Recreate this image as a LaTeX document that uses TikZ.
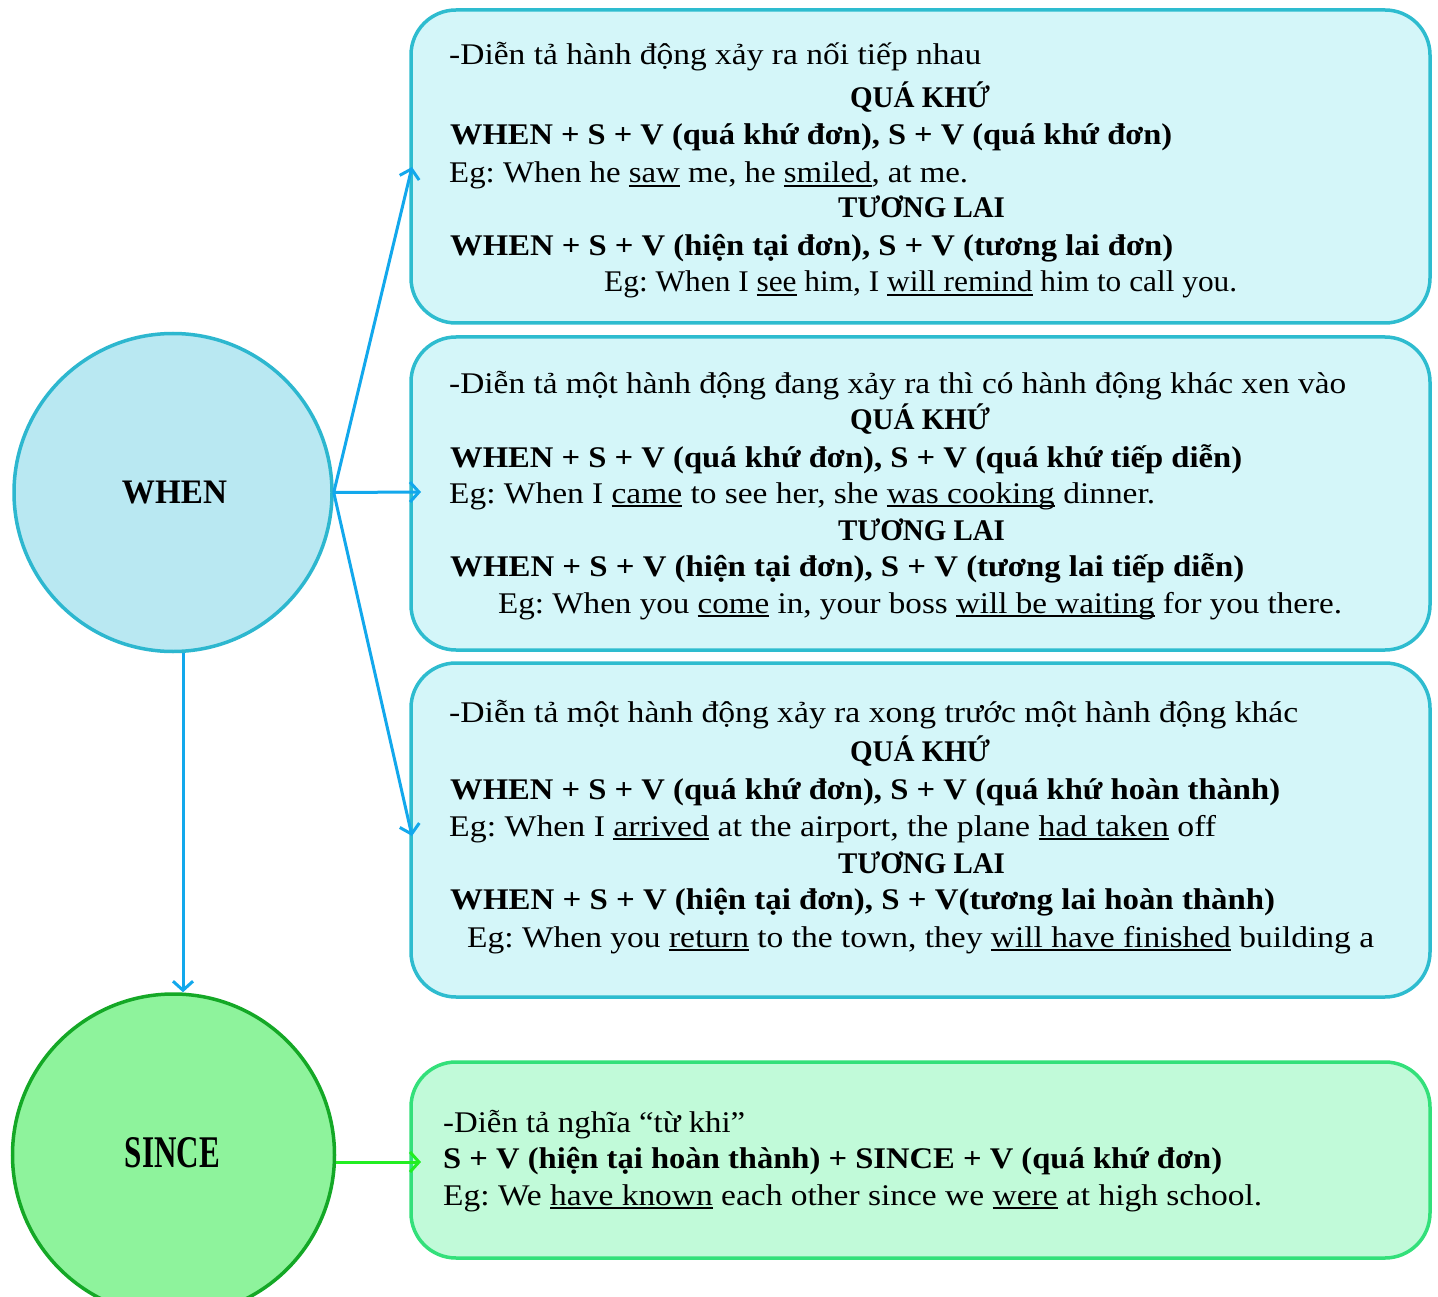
\documentclass[tikz,border=0pt]{standalone}
\usepackage{fontspec}
\usepackage{graphicx}
\setmainfont{Liberation Serif}
\usetikzlibrary{arrows.meta}
\definecolor{boxfill}{HTML}{D4F6F9}
\definecolor{boxline}{HTML}{2EBCCF}
\definecolor{arrblue}{HTML}{12A8EC}
\definecolor{whenfill}{HTML}{B9E8F2}
\definecolor{whenline}{HTML}{2DB7CF}
\definecolor{sincefill}{HTML}{8EF39C}
\definecolor{sinceline}{HTML}{14A826}
\definecolor{gboxfill}{HTML}{C1FAD9}
\definecolor{gboxline}{HTML}{33E07A}
\definecolor{garrow}{HTML}{22EE22}
\frenchspacing
\newsavebox\fitbox
\newsavebox\ulbox
\newcommand\fitto[2]{\sbox\fitbox{#2}\pgfmathsetmacro\fitr{#1/\the\wd\fitbox}\scalebox{\fitr}[1]{\usebox\fitbox}}
\newcommand\ul[1]{\sbox\ulbox{#1}\rlap{\rule[-3.6pt]{\wd\ulbox}{1.7pt}}\usebox\ulbox}
\tikzset{
  txt/.style={anchor=base west, inner sep=0pt, font=\fontsize{30}{32}\selectfont, text=black},
  ctr/.style={anchor=base, inner sep=0pt, font=\fontsize{30}{32}\selectfont\bfseries, text=black},
  bluebox/.style={draw=boxline, fill=boxfill, line width=3.5pt, rounded corners=45pt, minimum width=1019pt, inner sep=0pt},
  greenbox/.style={draw=gboxline, fill=gboxfill, line width=3.5pt, rounded corners=45pt, minimum width=1019pt, inner sep=0pt},
  barrow/.style={draw=arrblue, line width=3pt, -{Straight Barb[length=9pt,width=20pt,line width=3pt]}},
  garr/.style={draw=garrow, line width=3pt, -{Straight Barb[length=9pt,width=20pt,line width=3pt]}},
}
\begin{document}
\begin{tikzpicture}[x=1pt,y=-1pt]
\useasboundingbox[fill=white] (0,0) rectangle (1438,1297);
% circles
\node[circle, draw=whenline, fill=whenfill, line width=3.5pt, minimum size=318pt, inner sep=0pt] (when) at (173,492.5) {};
\node[anchor=base, inner sep=0pt] (whent) at (174.5,503) {\resizebox{105pt}{22.5pt}{\bfseries WHEN}};
\node[circle, draw=sinceline, fill=sincefill, line width=3.5pt, minimum size=322pt, inner sep=0pt] (since) at (173.5,1155) {};
\node[anchor=base, inner sep=0pt] (sincet) at (172.5,1167) {\resizebox{95pt}{30pt}{\bfseries SINCE}};
% boxes
\node[bluebox, minimum height=313pt] (b1) at (920.5,166.5) {};
\node[bluebox, minimum height=313pt] (b2) at (920.5,493.5) {};
\node[bluebox, minimum height=334pt] (b3) at (920.5,830) {};
\node[greenbox, minimum height=196pt] (b4) at (920.5,1160) {};
% connectors
\coordinate (e1) at (412,167);
\coordinate (e2) at (421,492);
\coordinate (e3) at (412,836);
\coordinate (dx) at (183,0);
\coordinate (g1) at (421,1162);
\draw[barrow] (when.east) -- (e1);
\draw[barrow] (when.east) -- (e2);
\draw[barrow] (when.east) -- (e3);
\draw[barrow] (when.south -| dx) -- (since.north -| dx);
\draw[garr] (since.east |- g1) -- (g1);
% box 1
\node[txt] (a1) at (449,65) {\fitto{532}{-Diễn tả hành động xảy ra nối tiếp nhau}};
\node[ctr] (a2) at (920,108) {\fitto{140}{QUÁ KHỨ}};
\node[txt] (a3) at (450,145) {\fitto{722}{\bfseries WHEN + S + V (quá khứ đơn), S + V (quá khứ đơn)}};
\node[txt] (a4) at (449,183) {\fitto{519}{Eg: When he \ul{saw} me, he \ul{smiled}, at me.}};
\node[ctr] (a5) at (921.5,218) {\fitto{167}{TƯƠNG LAI}};
\node[txt] (a6) at (450,256) {\fitto{723}{\bfseries WHEN + S + V (hiện tại đơn), S + V (tương lai đơn)}};
\node[txt] (a7) at (604,292) {\fitto{633}{Eg: When I \ul{see} him, I \ul{will remind} him to call you.}};
% box 2
\node[txt] (c1) at (449,393) {\fitto{897}{-Diễn tả một hành động đang xảy ra thì có hành động khác xen vào}};
\node[ctr] (c2) at (920,429) {\fitto{140}{QUÁ KHỨ}};
\node[txt] (c3) at (450,467) {\fitto{792}{\bfseries WHEN + S + V (quá khứ đơn), S + V (quá khứ tiếp diễn)}};
\node[txt] (c4) at (449,503) {\fitto{706}{Eg: When I \ul{came} to see her, she \ul{was cooking} dinner.}};
\node[ctr] (c5) at (921.5,540) {\fitto{167}{TƯƠNG LAI}};
\node[txt] (c6) at (450,576) {\fitto{794}{\bfseries WHEN + S + V (hiện tại đơn), S + V (tương lai tiếp diễn)}};
\node[txt] (c7) at (498,613) {\fitto{844}{Eg: When you \ul{come} in, your boss \ul{will be waiting} for you there.}};
% box 3
\node[txt] (d1) at (449,722) {\fitto{849}{-Diễn tả một hành động xảy ra xong trước một hành động khác}};
\node[ctr] (d2) at (920,761) {\fitto{140}{QUÁ KHỨ}};
\node[txt] (d3) at (450,799) {\fitto{830}{\bfseries WHEN + S + V (quá khứ đơn), S + V (quá khứ hoàn thành)}};
\node[txt] (d4) at (449,836) {\fitto{767}{Eg: When I \ul{arrived} at the airport, the plane \ul{had taken} off}};
\node[ctr] (d5) at (921.5,873) {\fitto{167}{TƯƠNG LAI}};
\node[txt] (d6) at (450,909) {\fitto{825}{\bfseries WHEN + S + V (hiện tại đơn), S + V(tương lai hoàn thành)}};
\node[txt] (d7) at (467,947) {\fitto{907}{Eg: When you \ul{return} to the town, they \ul{will have finished} building a}};
% box 4
\node[txt] (f1) at (443,1132) {\fitto{302}{-Diễn tả nghĩa “từ khi”}};
\node[txt] (f2) at (443,1168) {\fitto{779}{\bfseries S + V (hiện tại hoàn thành) + SINCE + V (quá khứ đơn)}};
\node[txt] (f3) at (443,1205) {\fitto{819}{Eg: We \ul{have known} each other since we \ul{were} at high school.}};
\end{tikzpicture}
\end{document}
